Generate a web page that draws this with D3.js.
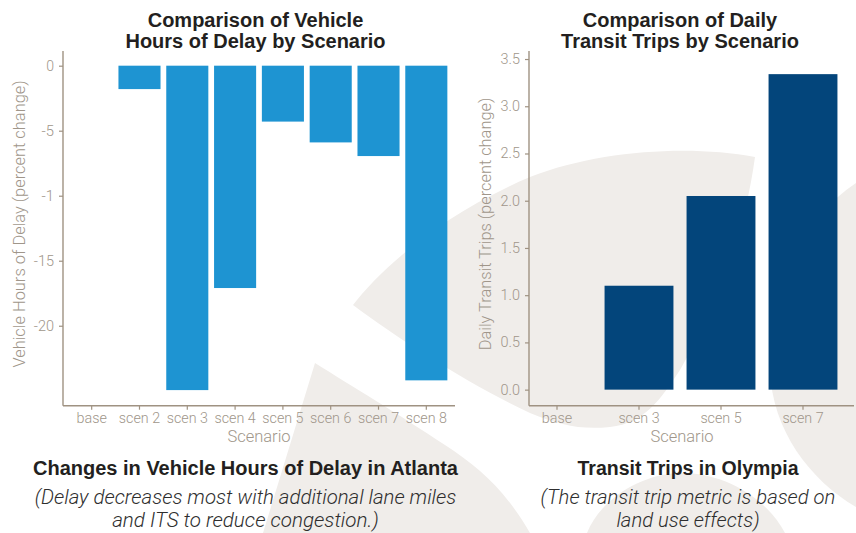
<!DOCTYPE html>
<html>
<head>
<meta charset="utf-8">
<script src="https://cdn.jsdelivr.net/npm/d3@7"></script>
<style>
    body { margin: 0; background: #fff; }
    svg { display: block; font-family: "Liberation Sans", Arial, sans-serif; }
</style>
</head>
<body>
<div id="chart"></div>
<script>

// Vehicle hours of delay (percent change), Atlanta
const delayScenarios = ["base", "scen 2", "scen 3", "scen 4", "scen 5", "scen 6", "scen 7", "scen 8"];
const delayValues = [0, -1.8, -24.95, -17.1, -4.3, -5.9, -6.95, -24.2];
const delayTicks = [0, -5, -10, -15, -20];
const delayTickLabels = ["0", "-5", "-1", "-15", "-20"];

// Daily transit trips (percent change), Olympia
const transitScenarios = ["base", "scen 3", "scen 5", "scen 7"];
const transitValues = [0, 1.1, 2.05, 3.34];
const transitTicks = [0, 0.5, 1.0, 1.5, 2.0, 2.5, 3.0, 3.5];

const axisColor = "#9f9282";
const labelColor = "#a0968a";

let svg = d3.select("#chart").append("svg")
    .attr("width", 856)
    .attr("height", 533);

// Light background logo shapes
let bg = svg.append("g").attr("fill", "#f0edea");
bg.append("path").attr("d", "M353,305 C380,270 440,215 530,177 C600,150 690,145 755,157 C745,230 720,300 680,370 C660,400 645,423 610,427 C580,430 560,425 530,413 C470,385 400,340 353,305 Z");
bg.append("path").attr("d", "M315,363 L263,533 L530,533 C505,490 480,468 445,445 C400,415 350,385 315,363 Z");
bg.append("path").attr("d", "M587,533 C600,500 640,474 680,473 C720,472 765,495 785,533 Z");
bg.append("path").attr("d", "M856,183 C800,220 765,300 770,370 C772,430 810,480 856,507 Z");

// Measure each text in Liberation Sans, then switch it to a light face
// stretched to the same width (the original uses a light Helvetica).
function lighten(sel) {
    sel.each(function() {
        let w = this.getComputedTextLength();
        d3.select(this)
            .style("font-family", "Roboto, 'Liberation Sans', sans-serif")
            .style("font-weight", 300)
            .attr("textLength", w)
            .attr("lengthAdjust", "spacingAndGlyphs");
    });
}

function drawChart(opts) {
    let g = svg.append("g");

    let x = d3.scaleBand()
        .domain(opts.categories)
        .range(opts.xRange)
        .paddingInner(opts.padInner)
        .paddingOuter(opts.padOuter);

    let y = d3.scaleLinear()
        .domain(opts.yDomain)
        .range([405.7, 51]);

    // Bars
    g.append("g").selectAll("rect")
        .data(opts.values)
        .enter().append("rect")
        .attr("x", (d, i) => x(opts.categories[i]))
        .attr("width", x.bandwidth())
        .attr("y", d => Math.min(y(0), y(d)))
        .attr("height", d => Math.abs(y(d) - y(0)))
        .attr("fill", opts.color);

    // Y axis
    let yAxis = g.append("g")
        .attr("transform", "translate(" + opts.left + ",0)")
        .call(d3.axisLeft(y)
            .tickValues(opts.ticks)
            .tickFormat((d, i) => opts.tickLabels[i])
            .tickSize(4)
            .tickSizeOuter(0)
            .tickPadding(5));
    yAxis.select(".domain").remove();
    yAxis.append("line")
        .attr("x1", 0).attr("x2", 0)
        .attr("y1", 51).attr("y2", 405.7)
        .attr("stroke", axisColor)
        .attr("stroke-width", 1.4);

    // X axis
    let xAxis = g.append("g")
        .attr("transform", "translate(0,405.7)")
        .call(d3.axisBottom(x)
            .tickSize(4)
            .tickSizeOuter(0)
            .tickPadding(3));
    xAxis.select(".domain").remove();
    xAxis.append("line")
        .attr("x1", opts.left).attr("x2", opts.right)
        .attr("stroke", axisColor)
        .attr("stroke-width", 1.4);

    g.selectAll(".tick line").attr("stroke", axisColor).attr("stroke-width", 1.2);
    g.selectAll(".tick text")
        .attr("fill", labelColor)
        .style("font-size", "14px")
        .style("font-family", "'Liberation Sans', Arial, sans-serif")
        .call(lighten);

    // Axis titles
    g.append("text")
        .attr("x", opts.xTitleX)
        .attr("y", 442)
        .attr("text-anchor", "middle")
        .attr("fill", labelColor)
        .style("font-size", "16px")
        .text("Scenario")
        .call(lighten);

    g.append("text")
        .attr("transform", "translate(" + opts.yTitleX + ",224) rotate(-90)")
        .attr("text-anchor", "middle")
        .attr("fill", labelColor)
        .style("font-size", "16px")
        .text(opts.yTitle)
        .call(lighten);

    // Chart title (two lines)
    let title = g.append("text")
        .attr("text-anchor", "middle")
        .attr("fill", "#231f20")
        .style("font-size", "20px")
        .style("font-weight", "bold");
    opts.title.forEach((line, i) => {
        title.append("tspan")
            .attr("x", opts.titleX)
            .attr("y", 27 + i * 20.5)
            .text(line);
    });

    // Caption below chart
    g.append("text")
        .attr("x", opts.captionX)
        .attr("y", 474.5)
        .attr("text-anchor", "middle")
        .attr("fill", "#231f20")
        .style("font-size", opts.captionSize + "px")
        .style("font-weight", "bold")
        .text(opts.caption);

    // Italic note, one text per line
    opts.note.forEach((line, i) => {
        g.append("text")
            .attr("x", opts.captionX)
            .attr("y", 503.5 + i * 23.5)
            .attr("text-anchor", "middle")
            .attr("fill", "#2e2e2e")
            .style("font-size", "19.5px")
            .style("font-style", "italic")
            .text(line)
            .call(lighten);
    });
}

drawChart({
    categories: delayScenarios,
    values: delayValues,
    ticks: delayTicks,
    tickLabels: delayTickLabels,
    color: "#1e94d2",
    xRange: [63, 455],
    padInner: 0.12,
    padOuter: 0.16,
    yDomain: [-26.15, 1.13],
    left: 63,
    right: 455,
    xTitleX: 259,
    yTitleX: 24.5,
    yTitle: "Vehicle Hours of Delay (percent change)",
    titleX: 255.5,
    title: ["Comparison of Vehicle", "Hours of Delay by Scenario"],
    captionX: 245.5,
    captionSize: 20,
    caption: "Changes in Vehicle Hours of Delay in Atlanta",
    note: ["(Delay decreases most with additional lane miles", "and ITS to reduce congestion.)"]
});

drawChart({
    categories: transitScenarios,
    values: transitValues,
    ticks: transitTicks,
    tickLabels: transitTicks.map(d3.format(".1f")),
    color: "#03457b",
    xRange: [516, 844],
    padInner: 0.16,
    padOuter: 0.08,
    yDomain: [-0.17, 3.585],
    left: 529,
    right: 854,
    xTitleX: 682,
    yTitleX: 490.5,
    yTitle: "Daily Transit Trips (percent change)",
    titleX: 680,
    title: ["Comparison of Daily", "Transit Trips by Scenario"],
    captionX: 688,
    captionSize: 19.5,
    caption: "Transit Trips in Olympia",
    note: ["(The transit trip metric is based on", "land use effects)"]
});

</script>
</body>
</html>
